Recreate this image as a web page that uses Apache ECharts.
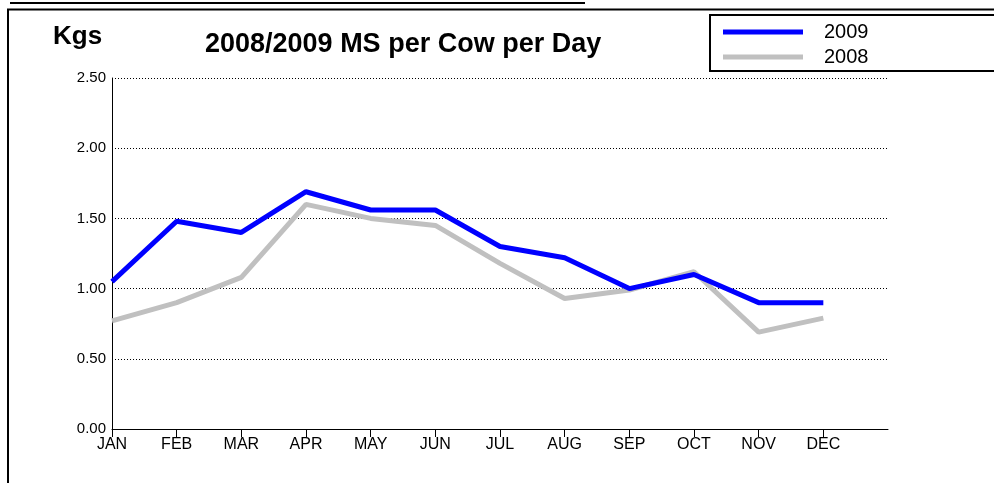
<!DOCTYPE html>
<html><head><meta charset="utf-8">
<script src="https://cdn.jsdelivr.net/npm/echarts@6/dist/echarts.min.js"></script>
<style>html,body{margin:0;padding:0;background:#fff}#c{width:994px;height:483px}</style>
</head><body><div id="c"></div>
<script>
const months = ['JAN','FEB','MAR','APR','MAY','JUN','JUL','AUG','SEP','OCT','NOV','DEC',''];
const s2009 = [1.05,1.48,1.40,1.69,1.56,1.56,1.30,1.22,1.00,1.10,0.90,0.90];
const s2008 = [0.77,0.90,1.08,1.60,1.50,1.45,1.18,0.93,0.99,1.12,0.69,0.79];
const yTicks = {min:0, max:2.5, interval:0.5};
const FONT = 'Liberation Sans, Arial, sans-serif';

const chart = echarts.init(document.getElementById('c'), null, {renderer:'canvas'});
chart.setOption({
  animation:false,
  backgroundColor:'#fff',
  textStyle:{fontFamily:FONT},
  title:[
    {text:'2008/2009 MS per Cow per Day', left:205, top:31, padding:0,
     textStyle:{fontFamily:FONT, fontSize:27, fontWeight:'bold', color:'#000'}},
    {text:'Kgs', left:53, top:24, padding:0,
     textStyle:{fontFamily:FONT, fontSize:26, fontWeight:'bold', color:'#000'}}
  ],
  legend:{
    data:['2009','2008'], orient:'vertical', left:723, top:22, padding:0,
    itemWidth:80, itemHeight:5, itemGap:5, icon:'rect',
    textStyle:{fontFamily:FONT, fontSize:20, color:'#000', lineHeight:20, padding:[0,0,0,16]}
  },
  grid:{left:112, right:106, top:78, bottom:54, containLabel:false},
  xAxis:{
    type:'category', data:months, boundaryGap:false,
    axisLine:{lineStyle:{color:'#000', width:1}},
    axisTick:{show:true, length:8, interval:function(i){return i<12;}, lineStyle:{color:'#000'}},
    axisLabel:{interval:0, margin:8, fontFamily:FONT, fontSize:16, color:'#000'},
    splitLine:{show:false}
  },
  yAxis:{
    type:'value', min:yTicks.min, max:yTicks.max, interval:yTicks.interval,
    axisLine:{show:true, lineStyle:{color:'#000', width:1}},
    axisTick:{show:false},
    axisLabel:{margin:6, fontFamily:FONT, fontSize:15, color:'#000', formatter:v=>v.toFixed(2)},
    splitLine:{show:true, lineStyle:{color:'#000', type:[1,2], width:1}}
  },
  series:[
    {name:'2008', type:'line', data:s2008, symbol:'none', lineStyle:{color:'#C0C0C0', width:5}, itemStyle:{color:'#C0C0C0'}},
    {name:'2009', type:'line', data:s2009, symbol:'none', lineStyle:{color:'#0000FF', width:5}, itemStyle:{color:'#0000FF'}}
  ],
  graphic:[
    {type:'line', shape:{x1:10,y1:3,x2:585,y2:3}, style:{stroke:'#000', lineWidth:2}},
    {type:'line', shape:{x1:7,y1:9.5,x2:994,y2:9.5}, style:{stroke:'#000', lineWidth:2}},
    {type:'line', shape:{x1:8,y1:9,x2:8,y2:483}, style:{stroke:'#000', lineWidth:2}},
    {type:'rect', shape:{x:710,y:15,width:300,height:56}, style:{fill:'#fff', stroke:'#000', lineWidth:2}, z:-1}
  ]
});
</script></body></html>
